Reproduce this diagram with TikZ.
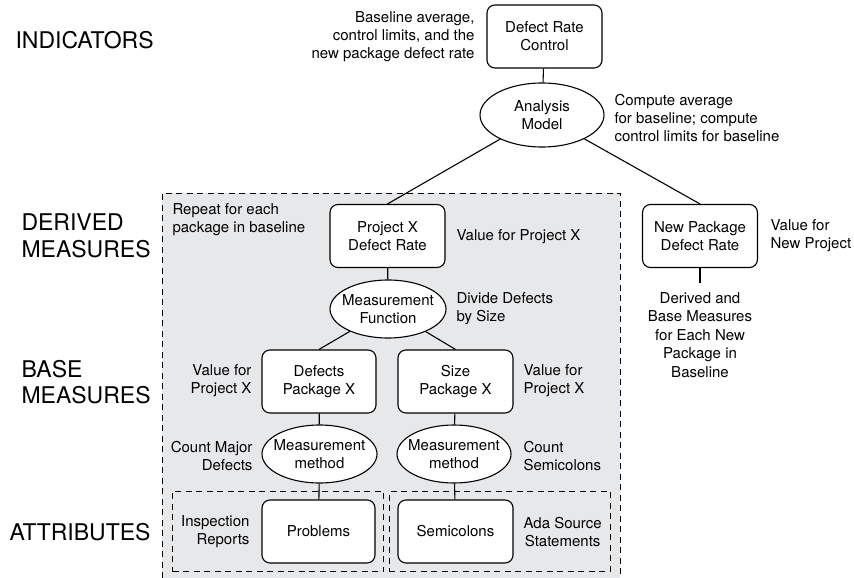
\documentclass[tikz,border=0pt]{standalone}
\usepackage{fontspec}
\setmainfont{TeX Gyre Heros}
\usetikzlibrary{shapes.geometric}
\usetikzlibrary{fit}
\usetikzlibrary{positioning}

\definecolor{regionfill}{RGB}{231,232,234}

\tikzset{
  box/.style={draw,rounded corners=8pt,fill=white,minimum width=115pt,minimum height=63pt,align=center,inner sep=0pt},
  oval/.style={draw,ellipse,fill=white,minimum width=116pt,minimum height=58pt,inner xsep=-14pt,inner ysep=0pt,align=center},
  note/.style={inner sep=0pt},
  level/.style={anchor=west,align=left,inner sep=0pt,font=\fontsize{23}{26.5}\selectfont},
  dashline/.style={line width=1pt,dash pattern=on 6pt off 4.5pt},
}

\begin{document}
\begin{tikzpicture}[x=1pt,y=-1pt,line width=1.1pt,font=\fontsize{15}{18}\selectfont]

  \useasboundingbox (0,0) rectangle (854,578);

  % repeated region
  \fill [regionfill] (162,193) rectangle (620,578);
  \draw [dashline] (162,578) -- (162,193) -- (620,193) -- (620,578);

  % levels
  \node [level] (Lind) at (15,40) {INDICATORS};
  \node [level] (Lder) at (21,236) {DERIVED\\MEASURES};
  \node [level] (Lbase) at (21,382) {BASE\\MEASURES};
  \node [level] (Lattr) at (9,532) {ATTRIBUTES};

  % nodes
  \node [box] (ctrl) at (544.5,36.5) {Defect Rate\\Control};
  \node [oval,minimum width=124pt,minimum height=64pt] (analysis) at (542,115) {Analysis\\Model};
  \node [box] (projrate) at (387.5,236) {Project X\\Defect Rate};
  \node [box] (newrate) at (700,236) {New Package\\Defect Rate};
  \node [oval] (mfunc) at (388,309) {Measurement\\Function};
  \node [box,minimum width=114pt] (defects) at (319,381.5) {Defects\\Package X};
  \node [box] (size) at (455.5,381.5) {Size\\Package X};
  \node [oval,minimum width=115pt] (methA) at (319.5,454) {Measurement\\method};
  \node [oval,minimum width=114pt] (methB) at (454,454) {Measurement\\method};
  \node [box,minimum width=113pt] (problems) at (318.5,531.5) {Problems};
  \node [box] (semicolons) at (455.5,531.5) {Semicolons};

  % notes
  \node [note,anchor=east,align=right] (ctrlnote) at (475,37) {Baseline average,\\control limits, and the\\new package defect rate};
  \node [note,anchor=west,align=left] (analysisnote) at (614,118) {Compute average\\for baseline; compute\\control limits for baseline};
  \node [note,anchor=west,align=left] (repeatnote) at (172,220) {Repeat for each\\package in baseline};
  \node [note,anchor=west] (projnote) at (456,237) {Value for Project X};
  \node [note,anchor=west,align=left] (newvalnote) at (770,236) {Value for\\New Project};
  \node [note,anchor=north,align=center,font=\fontsize{15}{18.5}\selectfont] (newnote) at (700,292) {Derived and\\Base Measures\\for Each New\\Package in\\Baseline};
  \node [note,anchor=west,align=left] (mfuncnote) at (456,309) {Divide Defects\\by Size};
  \node [note,anchor=east,align=right] (defectsnote) at (252,381) {Value for\\Project X};
  \node [note,anchor=west,align=left] (sizenote) at (523,381) {Value for\\Project X};
  \node [note,anchor=east,align=right] (methAnote) at (253,456) {Count Major\\Defects};
  \node [note,anchor=west,align=left] (methBnote) at (523,456) {Count\\Semicolons};
  \node [note,anchor=east,align=right] (inspnote) at (250,532) {Inspection\\Reports};
  \node [note,anchor=west,align=center] (adanote) at (523,532) {Ada Source\\Statements};

  % attribute groups
  \node [draw,dashline,fit=(inspnote) (problems),inner sep=8pt] (attrA) {};
  \node [draw,dashline,fit=(semicolons) (adanote),inner sep=8pt] (attrB) {};

  % connectors
  \path [draw]
    (ctrl)     edge (analysis)
    (analysis) edge (projrate.north)
    (analysis) edge (newrate.north)
    (projrate) edge (mfunc)
    (mfunc)    edge (defects.north)
    (mfunc)    edge (size.north)
    (defects)  edge (methA)
    (size)     edge (methB)
    (methA)    edge (problems)
    (methB)    edge (semicolons);
  \draw [shorten >=9pt] (newrate.south) -- (newnote.north);

\end{tikzpicture}
\end{document}
